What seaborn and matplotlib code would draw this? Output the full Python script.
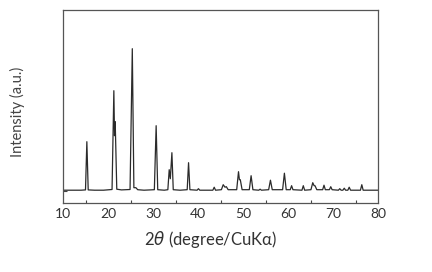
import matplotlib
matplotlib.use("Agg")
import matplotlib.pyplot as plt
import seaborn as sns
import pandas as pd
from matplotlib.ticker import MultipleLocator

sns.set_theme(style="white")
plt.rcParams['font.family'] = ['Lato', 'DejaVu Sans']
plt.rcParams['mathtext.fontset'] = 'dejavusans'

# XRD pattern: 2-theta (deg) and intensity (a.u., baseline = 0)
two_theta = [10.0, 12.0, 14.0, 15.0, 15.3, 15.6, 17.0, 19.0, 20.9, 21.3, 21.45, 21.6, 21.95,
             23.0, 24.9, 25.4, 25.75, 26.2, 26.6, 28.0, 30.3, 30.7, 31.05, 32.5, 33.3, 33.6,
             33.85, 34.2, 34.5, 36.0, 37.6, 37.9, 38.2, 39.8, 40.1, 40.4, 43.3, 43.6, 43.9,
             45.2, 45.6, 46.0, 46.3, 46.7, 48.6, 49.0, 49.2, 49.4, 49.8, 51.4, 51.8, 52.2,
             53.5, 53.8, 54.1, 55.7, 56.1, 56.5, 58.8, 59.2, 59.6, 60.5, 60.8, 61.1, 63.1,
             63.4, 63.7, 65.1, 65.5, 65.8, 66.0, 66.4, 67.7, 68.0, 68.3, 69.2, 69.5, 69.8,
             71.2, 71.5, 71.8, 72.2, 72.5, 72.8, 73.3, 73.6, 73.9, 76.1, 76.4, 76.7, 78.0,
             80.0]
intensity = [0.5, 0.5, 0.5, 0.8, 49.0, 0.8, 0.5, 0.5, 1.2, 100.0, 55.0, 69.0, 1.5,
             0.8, 1.2, 142.0, 3.0, 3.0, 1.0, 0.5, 1.0, 65.0, 1.0, 0.5, 1.0, 21.0,
             12.0, 38.0, 1.0, 0.5, 1.0, 28.0, 1.0, 0.5, 2.0, 0.5, 0.5, 3.5, 0.5,
             1.0, 6.0, 3.5, 4.0, 1.0, 1.0, 19.0, 11.0, 11.0, 1.0, 1.0, 15.0, 1.0,
             0.5, 1.5, 0.5, 1.0, 10.5, 1.0, 1.0, 17.5, 1.0, 1.0, 5.0, 1.0, 0.5,
             5.0, 0.5, 1.0, 8.0, 5.0, 5.0, 1.0, 1.0, 5.5, 1.0, 1.0, 4.0, 1.0,
             0.5, 2.0, 0.5, 0.5, 2.5, 0.5, 0.5, 3.5, 0.5, 0.5, 6.0, 0.5, 0.5,
             0.5]
x_ticks = [10, 20, 30, 40, 50, 60, 70, 80]

df = pd.DataFrame({"two_theta": two_theta, "intensity": intensity})

fig = plt.figure(figsize=(4.32, 2.72), dpi=100)
ax = fig.add_axes([63/432, 1 - 202.7/272, (378 - 63)/432, (202.7 - 10)/272])

sns.lineplot(data=df, x="two_theta", y="intensity", estimator=None, ax=ax,
             color="#2b2b2b", linewidth=0.9)

ax.set_xlim(10, 80)
ax.set_ylim(-12, 180.7)
ax.set_xticks(x_ticks)
ax.xaxis.set_minor_locator(MultipleLocator(5))
ax.set_yticks([0])
ax.set_yticklabels([])
ax.tick_params(axis="x", which="major", direction="in", length=3, width=0.8,
               color="#444444", labelsize=10, labelcolor="#333333", pad=4)
ax.tick_params(axis="x", which="minor", direction="in", length=2, width=0.8,
               color="#444444", bottom=True)
ax.tick_params(axis="y", which="major", direction="in", length=3, width=0.8,
               color="#444444", left=True)
for s in ax.spines.values():
    s.set_color("#555555")
    s.set_linewidth(0.9)

ax.set_xlabel(r"2$\theta$ (degree/CuKα)", fontsize=12, color="#333333")
ax.set_ylabel("Intensity (a.u.)", fontsize=10.5, color="#444444")
ax.xaxis.set_label_coords(0.47, -0.135)
ax.yaxis.set_label_coords(-0.12, 0.47)

fig.savefig("out.png", dpi=100)
